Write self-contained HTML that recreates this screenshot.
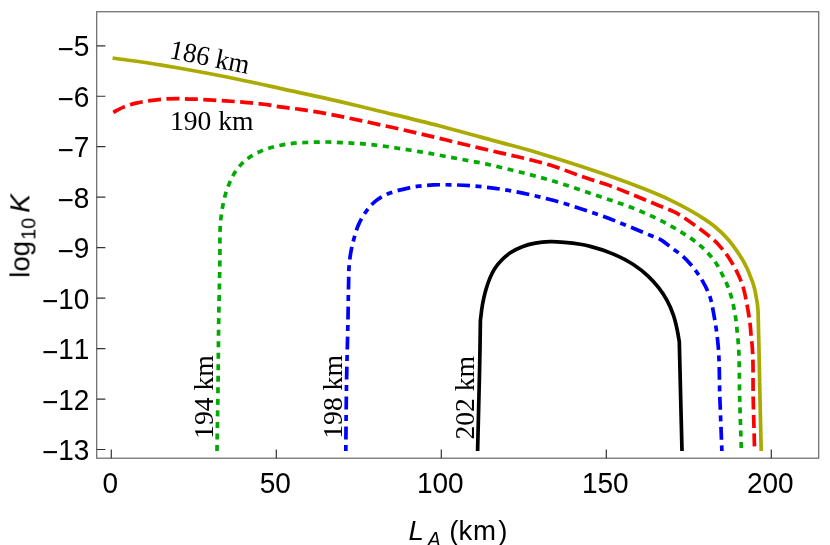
<!DOCTYPE html>
<html><head><meta charset="utf-8"><title>plot</title>
<style>
html,body{margin:0;padding:0;background:#fff;}
body{width:830px;height:545px;overflow:hidden;font-family:"Liberation Sans",sans-serif;}
svg{display:block;}
text{white-space:pre;font-kerning:none;}
.t{will-change:transform;}
</style></head><body>
<svg width="830" height="545" viewBox="0 0 830 545">
<rect x="0" y="0" width="830" height="545" fill="#fff"/>
<rect x="96.70" y="11.75" width="722.00" height="446.45" fill="none" stroke="#666666" stroke-width="1.2"/>
<path d="M96.70 45.80H105.4M96.70 96.26H105.4M96.70 146.72H105.4M96.70 197.19H105.4M96.70 247.65H105.4M96.70 298.11H105.4M96.70 348.57H105.4M96.70 399.04H105.4M96.70 449.50H105.4M111.30 458.20V449.5M276.30 458.20V449.5M441.30 458.20V449.5M606.30 458.20V449.5M771.30 458.20V449.5" stroke="#333333" stroke-width="1.2" fill="none"/>
<g class="t" font-family="Liberation Sans, sans-serif" font-size="28.00" fill="#000"><text transform="translate(89.4 56.40) scale(1 1.06)" text-anchor="end"><tspan dy="2.2">−</tspan><tspan dy="-2.2">5</tspan></text><text transform="translate(89.4 106.86) scale(1 1.06)" text-anchor="end"><tspan dy="2.2">−</tspan><tspan dy="-2.2">6</tspan></text><text transform="translate(89.4 157.32) scale(1 1.06)" text-anchor="end"><tspan dy="2.2">−</tspan><tspan dy="-2.2">7</tspan></text><text transform="translate(89.4 207.79) scale(1 1.06)" text-anchor="end"><tspan dy="2.2">−</tspan><tspan dy="-2.2">8</tspan></text><text transform="translate(89.4 258.25) scale(1 1.06)" text-anchor="end"><tspan dy="2.2">−</tspan><tspan dy="-2.2">9</tspan></text><text transform="translate(89.4 308.71) scale(1 1.06)" text-anchor="end"><tspan dy="2.2">−</tspan><tspan dy="-2.2">10</tspan></text><text transform="translate(89.4 359.18) scale(1 1.06)" text-anchor="end"><tspan dy="2.2">−</tspan><tspan dy="-2.2">11</tspan></text><text transform="translate(89.4 409.64) scale(1 1.06)" text-anchor="end"><tspan dy="2.2">−</tspan><tspan dy="-2.2">12</tspan></text><text transform="translate(89.4 460.10) scale(1 1.06)" text-anchor="end"><tspan dy="2.2">−</tspan><tspan dy="-2.2">13</tspan></text><text transform="translate(110.30 493.3) scale(1 1.06)" text-anchor="middle">0</text><text transform="translate(275.30 493.3) scale(1 1.06)" text-anchor="middle">50</text><text transform="translate(440.30 493.3) scale(1 1.06)" text-anchor="middle">100</text><text transform="translate(605.30 493.3) scale(1 1.06)" text-anchor="middle">150</text><text transform="translate(770.30 493.3) scale(1 1.06)" text-anchor="middle">200</text></g>
<path d="M112.60 58.00 C128.40 60.27 144.25 62.19 160.00 64.80 C166.68 65.91 173.34 67.11 180.00 68.30 C200.04 71.88 220.06 75.60 240.00 79.70 C253.36 82.45 266.67 85.44 280.00 88.35 C300.01 92.71 320.05 96.97 340.00 101.60 C353.36 104.70 366.67 107.97 380.00 111.20 C400.02 116.06 420.07 120.78 440.00 126.00 C453.37 129.50 466.67 133.25 480.00 136.90 C500.01 142.37 520.12 147.49 540.00 153.40 C553.39 157.38 566.73 161.53 580.00 165.90 C600.15 172.54 620.30 179.32 640.00 187.20 C649.84 191.14 659.75 195.02 669.30 199.60 C679.79 204.63 690.20 210.02 700.00 216.30 C705.01 219.51 710.10 222.74 714.70 226.50 C719.68 230.57 724.41 235.10 728.60 240.00 C730.60 242.34 732.48 244.81 734.30 247.30 C736.07 249.71 737.78 252.18 739.40 254.70 C740.94 257.09 742.43 259.52 743.80 262.00 C745.12 264.39 746.39 266.81 747.50 269.30 C748.45 271.43 749.23 273.63 750.10 275.80 C750.97 277.97 751.94 280.10 752.70 282.30 C753.53 284.72 754.21 287.21 754.80 289.70 C755.37 292.11 755.77 294.56 756.20 297.00 C756.63 299.43 757.08 301.86 757.40 304.30 C757.68 306.49 757.83 308.70 758.05 310.90 C758.37 323.93 758.71 336.97 759.00 350.00 C759.37 366.33 759.65 382.67 760.00 399.00 C760.38 416.33 760.80 433.67 761.20 451.00" fill="none" stroke="#aaaa00" stroke-width="3.70" stroke-linejoin="round"/>
<path d="M113.30 112.40 C116.90 110.57 120.38 108.43 124.10 106.90 C127.97 105.31 132.04 104.12 136.10 103.10 C140.07 102.10 144.15 101.43 148.20 100.80 C153.76 99.94 159.38 99.34 165.00 99.00 C169.82 98.71 174.67 98.69 179.50 98.70 C185.13 98.71 190.77 98.97 196.40 99.20 C204.44 99.53 212.47 100.08 220.50 100.60 C228.54 101.12 236.58 101.59 244.60 102.30 C252.65 103.02 260.72 103.67 268.70 104.90 C272.48 105.48 276.22 106.30 280.00 106.90 C286.63 107.95 293.35 108.49 300.00 109.40 C330.84 113.64 361.26 120.74 391.70 127.30 C421.25 133.67 450.55 141.25 480.00 148.10 C486.47 149.60 492.94 151.07 499.40 152.60 C516.31 156.59 533.41 160.00 550.00 165.10 C562.83 169.04 575.23 174.39 588.00 178.60 C593.75 180.49 599.58 182.14 605.30 184.10 C617.05 188.12 628.49 193.02 640.00 197.70 C645.65 200.00 651.27 202.36 656.90 204.70 C662.50 207.03 668.30 209.00 673.70 211.70 C683.06 216.39 691.55 222.86 700.00 229.10 C703.21 231.47 706.40 233.89 709.50 236.40 C711.12 237.71 712.77 239.00 714.30 240.40 C716.89 242.77 719.23 245.42 721.50 248.10 C724.53 251.67 727.35 255.47 729.90 259.40 C732.05 262.72 733.98 266.19 735.80 269.70 C737.19 272.39 738.52 275.12 739.70 277.90 C740.92 280.78 742.06 283.72 743.00 286.70 C744.25 290.65 745.07 294.74 745.90 298.80 C746.30 300.76 746.64 302.73 747.00 304.70 C747.38 306.76 747.75 308.83 748.10 310.90 C748.80 315.02 749.50 319.15 750.00 323.30 C750.49 327.32 750.68 331.37 751.10 335.40 C751.32 337.50 751.58 339.60 751.80 341.70 C753.75 360.70 752.71 379.90 753.20 399.00 C753.65 416.33 754.13 433.67 754.60 451.00" fill="none" stroke="#ff0000" stroke-width="3.70" stroke-linejoin="round" stroke-dasharray="13 5.45" stroke-dashoffset="0.00"/>
<path d="M217.00 451.00 C217.33 430.00 217.72 409.00 218.00 388.00 C218.30 365.67 218.39 343.33 218.70 321.00 C219.02 298.00 219.84 275.00 219.90 252.00 C219.91 248.13 219.87 244.27 219.90 240.40 C219.93 236.53 219.91 232.66 220.10 228.80 C220.28 224.99 220.56 221.18 221.00 217.40 C221.45 213.52 222.06 209.64 222.80 205.80 C223.53 202.01 224.32 198.20 225.40 194.50 C226.48 190.80 227.81 187.15 229.30 183.60 C230.73 180.19 232.19 176.74 234.10 173.60 C236.14 170.25 238.57 167.02 241.30 164.20 C243.90 161.51 246.89 159.09 250.00 157.00 C253.15 154.88 256.63 153.17 260.10 151.60 C263.63 150.00 267.29 148.61 271.00 147.50 C274.79 146.37 278.71 145.62 282.60 144.90 C286.44 144.19 290.32 143.60 294.20 143.20 C298.05 142.80 301.93 142.68 305.80 142.50 C313.09 142.15 320.40 141.92 327.70 142.00 C335.50 142.09 343.31 142.62 351.10 143.10 C358.57 143.56 366.06 144.00 373.50 144.80 C381.16 145.62 388.78 146.87 396.40 148.00 C404.04 149.13 411.68 150.32 419.30 151.60 C426.95 152.89 434.57 154.30 442.20 155.70 C449.84 157.10 457.47 158.56 465.10 160.00 C472.30 161.36 479.54 162.55 486.70 164.10 C491.15 165.06 495.57 166.14 500.00 167.20 C516.75 171.20 533.48 175.35 550.00 180.20 C566.82 185.14 583.42 190.88 600.00 196.60 C613.39 201.22 626.98 205.40 640.00 210.95 C647.44 214.12 654.82 217.49 662.00 221.20 C668.11 224.35 674.18 227.65 680.00 231.30 C687.46 235.97 695.08 240.75 701.50 246.70 C707.35 252.12 712.97 258.22 717.20 265.00 C719.19 268.18 720.81 271.63 722.50 275.00 C724.07 278.13 725.66 281.27 727.00 284.50 C728.49 288.09 729.79 291.78 730.90 295.50 C732.03 299.28 732.89 303.14 733.70 307.00 C734.48 310.71 735.16 314.45 735.70 318.20 C736.27 322.11 736.59 326.06 737.00 330.00 C737.38 333.66 737.78 337.33 738.10 341.00 C739.80 360.26 739.11 379.67 739.70 399.00 C740.22 416.33 740.83 433.67 741.40 451.00" fill="none" stroke="#00aa00" stroke-width="3.70" stroke-linejoin="round" stroke-dasharray="6 5.535" stroke-dashoffset="0.00"/>
<path d="M345.80 451.00 C346.03 429.00 346.15 407.00 346.50 385.00 C346.89 360.83 347.73 336.67 348.10 312.50 C348.17 307.67 348.22 302.83 348.30 298.00 C348.38 293.17 348.49 288.33 348.60 283.50 C348.72 278.17 348.61 272.82 349.00 267.50 C349.35 262.65 349.88 257.79 350.70 253.00 C351.45 248.63 352.45 244.28 353.60 240.00 C355.09 234.45 356.59 228.79 359.00 223.60 C360.99 219.31 363.39 215.09 366.20 211.30 C369.15 207.33 372.52 203.42 376.40 200.40 C380.26 197.39 384.85 195.08 389.40 193.20 C394.01 191.30 399.02 190.27 403.90 189.10 C408.69 187.95 413.53 186.90 418.40 186.20 C423.43 185.48 428.52 185.14 433.60 184.90 C439.16 184.64 444.74 184.71 450.30 184.80 C466.91 185.08 483.58 186.60 500.00 189.00 C516.82 191.45 533.54 195.21 550.00 199.50 C566.88 203.90 583.55 209.35 600.00 215.20 C616.90 221.21 633.38 228.41 650.00 235.20 C653.34 236.56 656.83 237.64 660.00 239.30 C665.29 242.06 669.59 246.54 674.50 250.00 C676.32 251.28 678.24 252.44 680.00 253.80 C684.16 257.02 687.77 261.01 691.20 265.00 C695.61 270.14 699.58 275.80 702.90 281.70 C706.02 287.24 708.86 293.12 710.70 299.20 C712.03 303.57 712.65 308.19 713.50 312.70 C714.51 318.05 715.43 323.41 716.20 328.80 C716.78 332.86 717.26 336.93 717.70 341.00 C719.78 360.23 719.16 379.67 719.90 399.00 C720.56 416.33 721.23 433.67 721.90 451.00" fill="none" stroke="#0000ff" stroke-width="3.70" stroke-linejoin="round" stroke-dasharray="6 5.53 12.9 5.56" stroke-dashoffset="0.00"/>
<path d="M477.60 451.00 C478.27 423.67 479.05 396.34 479.60 369.00 C479.74 362.00 479.88 355.00 480.00 348.00 C480.16 338.80 480.27 329.60 480.40 320.40 C481.10 315.10 481.55 309.75 482.50 304.50 C483.38 299.63 484.42 294.75 485.80 290.00 C486.92 286.15 488.14 282.29 489.70 278.60 C491.17 275.14 492.75 271.64 494.80 268.50 C496.85 265.37 499.36 262.46 502.00 259.80 C504.66 257.12 507.57 254.59 510.70 252.50 C514.27 250.12 518.29 248.25 522.30 246.70 C526.50 245.08 530.97 243.93 535.40 243.10 C540.16 242.21 545.06 241.83 549.90 241.70 C554.69 241.57 559.52 241.91 564.30 242.30 C569.65 242.73 575.01 243.36 580.30 244.30 C583.92 244.94 587.54 245.70 591.10 246.60 C598.28 248.41 605.38 250.75 612.20 253.60 C619.48 256.64 626.71 260.17 633.30 264.50 C638.51 267.93 643.56 271.81 648.10 276.10 C651.87 279.67 655.42 283.59 658.60 287.70 C661.70 291.70 664.58 295.96 667.00 300.40 C669.56 305.10 671.67 310.13 673.40 315.20 C675.03 319.98 676.15 324.95 677.20 329.90 C678.03 333.80 678.60 337.77 679.30 341.70 C679.77 360.80 680.23 379.90 680.70 399.00 C681.13 416.33 681.57 433.67 682.00 451.00" fill="none" stroke="#000000" stroke-width="3.70" stroke-linejoin="round"/>

<g class="t" font-family="Liberation Serif, serif" font-size="27.6" fill="#000">
<text transform="translate(168.6 57.9) rotate(11.5) scale(0.965 1)">186 km</text>
<text x="169.9" y="129.6">190 km</text>
<text transform="translate(213.2 438.9) rotate(-90)">194 km</text>
<text transform="translate(342.2 438.7) rotate(-90)">198 km</text>
<text transform="translate(474.2 439.6) rotate(-90)">202 km</text>
</g>
<g class="t" font-family="Liberation Sans, sans-serif" font-size="27.6" fill="#000">
<text x="408.5" y="540.3" font-style="italic">L</text>
<text x="427.7" y="545.8" font-style="italic" font-size="19.3">A</text>
<text x="449.3" y="540.3">(k<tspan dx="0.6">m</tspan><tspan dx="2.3">)</tspan></text>
<g transform="translate(29.4 277.8) rotate(-90)">
<text x="0" y="0">log</text>
<text x="37.9" y="6.4" font-size="19.8">10</text>
<text x="65.0" y="0" font-style="italic" font-size="28.2">K</text>
</g>
</g>

</svg>
</body></html>
